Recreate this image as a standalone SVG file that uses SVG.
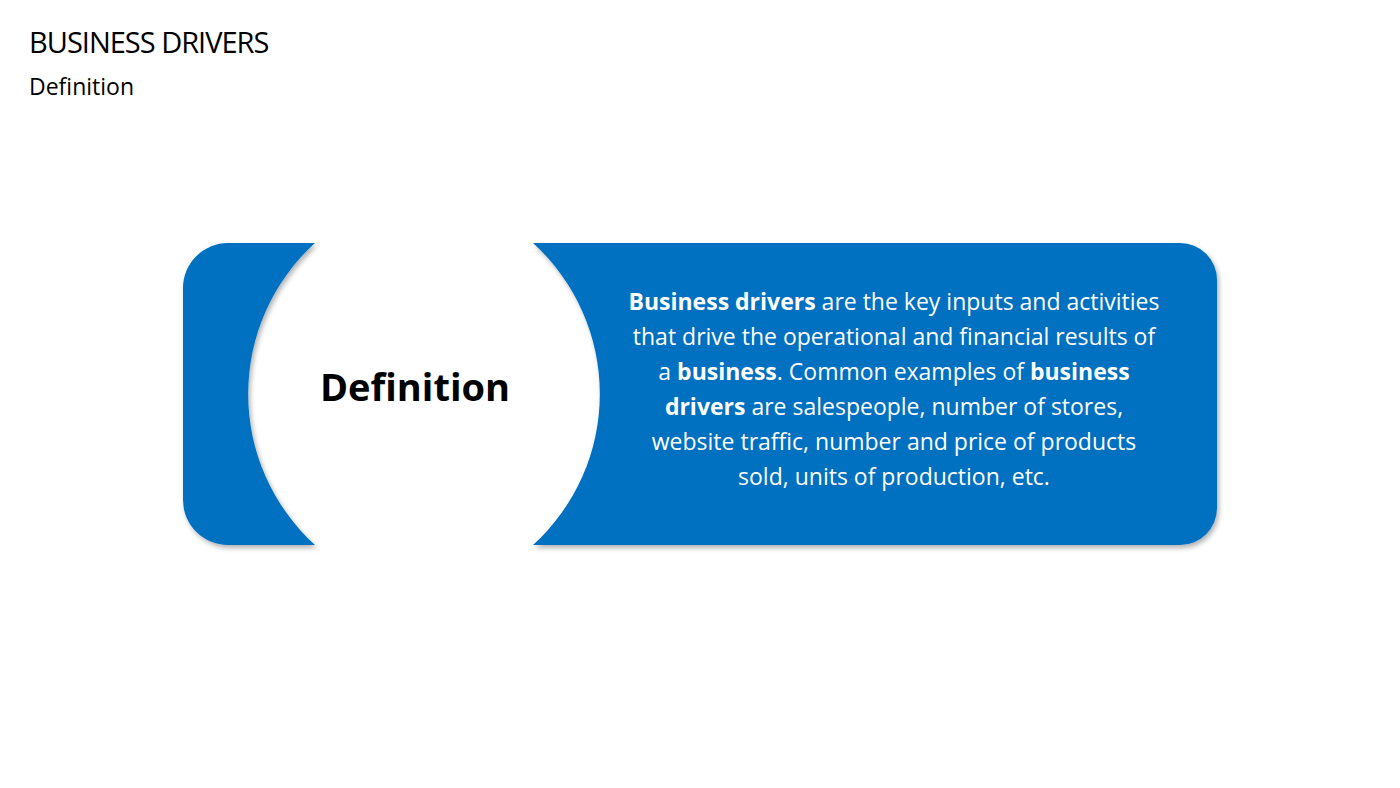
<svg xmlns="http://www.w3.org/2000/svg" width="1400" height="788" viewBox="0 0 1400 788">
<defs>
<filter id="sh" x="-5%" y="-5%" width="110%" height="115%"><feDropShadow dx="2" dy="3" stdDeviation="2.5" flood-color="#000" flood-opacity="0.3"/></filter>
<style>
.t{font-family:"Open Sans","Liberation Sans",sans-serif}
.b{font-family:"Open Sans","Liberation Sans",sans-serif;font-size:23px;fill:#fff;text-anchor:middle}
</style>
</defs>
<rect width="1400" height="788" fill="#fff"/>
<text class="t" x="29" y="53" font-size="29" fill="#000" letter-spacing="-1">BUSINESS DRIVERS</text>
<text class="t" x="29" y="95" font-size="23" fill="#000">Definition</text>
<g id="left-shape" filter="url(#sh)">
<path d="M315 243 L228 243 A45 45 0 0 0 183 288 L183 500 A45 45 0 0 0 228 545 L315 545 A204 204 0 0 1 315 243 Z" fill="#0070C0"/>
</g>
<g id="right-shape" filter="url(#sh)">
<path d="M533 243 L1180 243 A37 37 0 0 1 1217 280 L1217 508 A37 37 0 0 1 1180 545 L533 545 A204 204 0 0 0 533 243 Z" fill="#0070C0"/>
</g>
<g id="definition-label">
<text class="t" x="415" y="401" font-size="38" font-weight="bold" text-anchor="middle" fill="#000">Definition</text>
</g>
<g id="definition-text">
<text class="b" x="894" y="310"><tspan font-weight="bold">Business drivers</tspan> are the key inputs and activities</text>
<text class="b" x="894" y="345">that drive the operational and financial results of</text>
<text class="b" x="894" y="380">a <tspan font-weight="bold">business</tspan>. Common examples of <tspan font-weight="bold">business</tspan></text>
<text class="b" x="894" y="415"><tspan font-weight="bold">drivers</tspan> are salespeople, number of stores,</text>
<text class="b" x="894" y="450">website traffic, number and price of products</text>
<text class="b" x="894" y="485">sold, units of production, etc.</text>
</g>
<g id="connectors"/>
</svg>
